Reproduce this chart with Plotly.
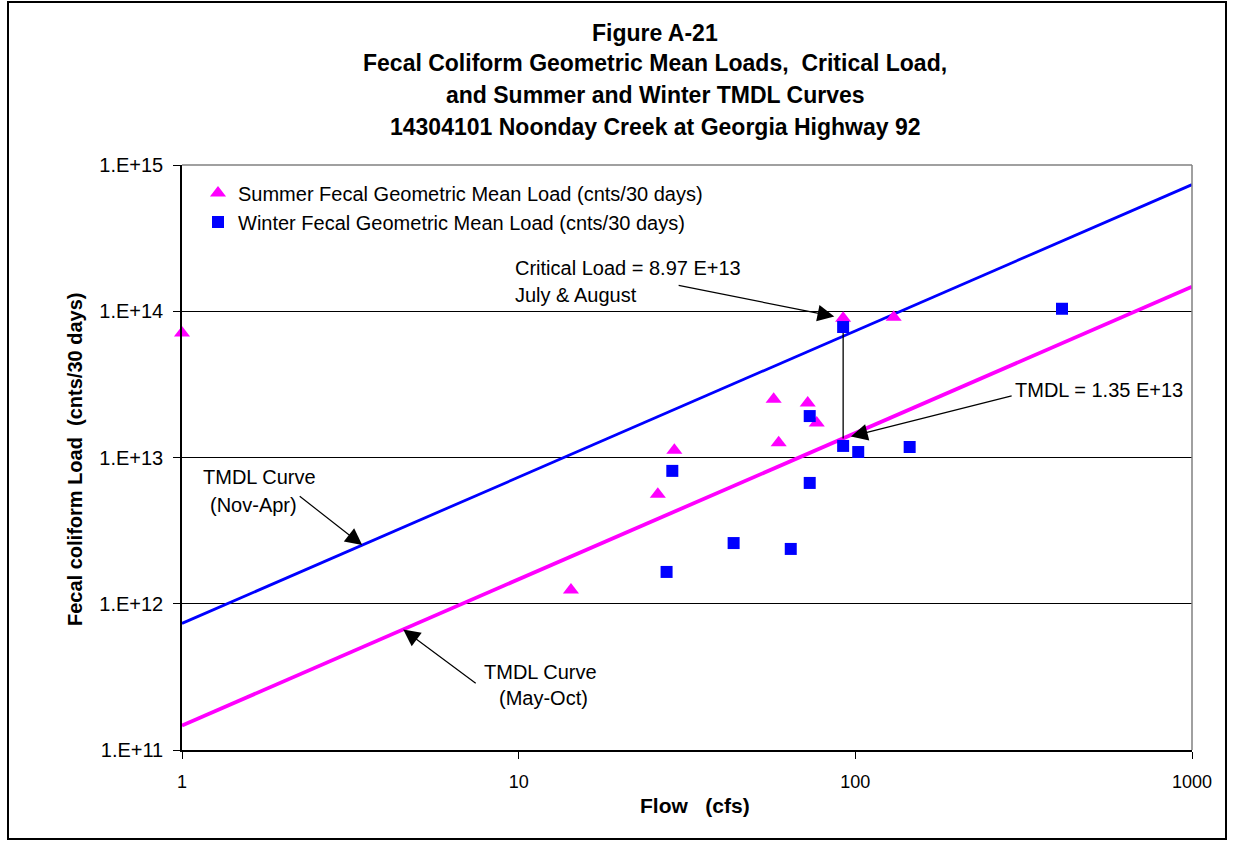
import numpy as np
import plotly.graph_objects as go

# ---- data -------------------------------------------------------------
summer_flow = [1, 92, 130, 57.2, 72.2, 76.8, 59.2, 29.0, 25.9, 14.3]
summer_load = [7.1e13, 8.97e13, 9.1e13, 2.5e13, 2.36e13, 1.72e13, 1.26e13, 1.12e13, 5.6e12, 1.24e12]

winter_flow = [92, 411, 73.2, 92, 102, 145, 28.6, 73.2, 43.5, 64.3, 27.5]
winter_load = [7.8e13, 1.04e14, 1.92e13, 1.2e13, 1.09e13, 1.18e13, 8.1e12, 6.7e12, 2.6e12, 2.37e12, 1.65e12]

# TMDL curves (load proportional to flow)
curve_flow = [1, 1000]
curve_summer = [1.47e11, 1.47e14]   # May-Oct
curve_winter = [7.34e11, 7.34e14]   # Nov-Apr

crit_flow = 92
crit_load = 8.97e13
tmdl_load = 1.35e13

y_tickvals = [1e11, 1e12, 1e13, 1e14, 1e15]
y_ticktext = ["1.E+11", "1.E+12", "1.E+13", "1.E+14", "1.E+15"]
x_tickvals = [1, 10, 100, 1000]
x_ticktext = ["1", "10", "100", "1000"]

# ---- layout geometry (pixels) ------------------------------------------
W, H = 1233, 843
L, R, T, B = 182, 1192, 165, 750
FONT = "Liberation Sans, Arial, sans-serif"
MAGENTA = "#FF00FF"
BLUE = "#0000FF"


def px(x):
    return (x - L) / (R - L)


def py(y):
    return (B - y) / (B - T)


def on_curve(q, loads):
    return 10 ** np.interp(np.log10(q), np.log10(curve_flow), np.log10(loads))


fig = go.Figure()

fig.add_trace(go.Scatter(x=curve_flow, y=curve_winter, mode="lines",
                         line=dict(color=BLUE, width=2.8), showlegend=False,
                         hoverinfo="skip"))
fig.add_trace(go.Scatter(x=curve_flow, y=curve_summer, mode="lines",
                         line=dict(color=MAGENTA, width=3.8), showlegend=False,
                         hoverinfo="skip"))
fig.add_trace(go.Scatter(x=[crit_flow, crit_flow], y=[crit_load, tmdl_load], mode="lines",
                         line=dict(color="black", width=1.3), showlegend=False,
                         hoverinfo="skip"))

fig.add_trace(go.Scatter(x=summer_flow, y=summer_load, mode="markers",
                         name="Summer Fecal Geometric Mean Load (cnts/30 days)",
                         marker=dict(symbol="triangle-up", size=14, color=MAGENTA,
                                     line=dict(width=0)),
                         cliponaxis=False, legend="legend"))
fig.add_trace(go.Scatter(x=winter_flow, y=winter_load, mode="markers",
                         name="Winter Fecal Geometric Mean Load (cnts/30 days)",
                         marker=dict(symbol="square", size=12, color=BLUE,
                                     line=dict(width=0)),
                         cliponaxis=False, legend="legend2"))

ann = []

# title
for text, yy in [("Figure A-21", 33),
                 ("Fecal Coliform Geometric Mean Loads,\u00a0\u00a0Critical Load,", 63),
                 ("and Summer and Winter TMDL Curves", 95),
                 ("14304101 Noonday Creek at Georgia Highway 92", 127)]:
    ann.append(dict(text="<b>%s</b>" % text, xref="paper", yref="paper",
                    x=px(655), y=py(yy), xanchor="center", yanchor="middle",
                    showarrow=False, font=dict(family=FONT, size=23, color="black")))

# axis titles
ann.append(dict(text="<b>Flow\u00a0\u00a0\u00a0(cfs)</b>", xref="paper", yref="paper",
                x=px(695), y=py(805), xanchor="center", yanchor="middle",
                showarrow=False, font=dict(family=FONT, size=21, color="black")))
ann.append(dict(text="<b>Fecal coliform Load\u00a0\u00a0(cnts/30 days)</b>", xref="paper", yref="paper",
                x=px(75), y=py(460), xanchor="center", yanchor="middle", textangle=-90,
                showarrow=False, font=dict(family=FONT, size=20, color="black")))

# callout texts
txt_font = dict(family=FONT, size=20, color="black")
for text, xx, yy, anchor in [("Critical Load = 8.97 E+13", 513, 268, "left"),
                             ("July & August", 513, 295, "left"),
                             ("TMDL = 1.35 E+13", 1013, 390, "left"),
                             ("TMDL Curve", 259, 477, "center"),
                             ("(Nov-Apr)", 253, 505, "center"),
                             ("TMDL Curve", 540, 672, "center"),
                             ("(May-Oct)", 543, 698, "center")]:
    ann.append(dict(text=text, xref="paper", yref="paper", x=px(xx), y=py(yy),
                    xanchor=anchor, yanchor="middle", showarrow=False, font=txt_font))

# arrows
arrow = dict(text="", showarrow=True, arrowhead=2, arrowsize=2.8, arrowwidth=1.2,
             arrowcolor="black", xref="x", yref="y", axref="pixel", ayref="pixel")
q_nov, q_may = 3.43, 4.54
for x, y, ax, ay, so in [(crit_flow, crit_load, -166, -33, 9),
                         (crit_flow, tmdl_load, 170, -43, 8),
                         (q_nov, on_curve(q_nov, curve_winter), -64, -50, 0),
                         (q_may, on_curve(q_may, curve_summer), 74, 55, 0)]:
    a = dict(arrow)
    a.update(x=np.log10(x), y=np.log10(y), ax=ax, ay=ay, standoff=so)
    ann.append(a)

shapes = [
    # plot-area border (top and right)
    dict(type="line", xref="paper", yref="paper", x0=0, x1=1, y0=1, y1=1,
         line=dict(color="#808080", width=1.5), layer="above"),
    dict(type="line", xref="paper", yref="paper", x0=1, x1=1, y0=0, y1=1,
         line=dict(color="#808080", width=1.5), layer="above"),
    # outer frame of the chart
    dict(type="rect", xref="paper", yref="paper", x0=px(8), x1=px(1226), y0=py(839), y1=py(2),
         line=dict(color="black", width=2), layer="below"),
]

legend_common = dict(xref="paper", yref="paper", xanchor="left", yanchor="middle",
                     bgcolor="rgba(0,0,0,0)", font=dict(family=FONT, size=20),
                     itemwidth=30)

fig.update_layout(
    width=W, height=H,
    margin=dict(l=L, r=W - R, t=T, b=H - B, pad=0, autoexpand=False),
    paper_bgcolor="white", plot_bgcolor="white",
    font=dict(family=FONT, size=20, color="black"),
    annotations=ann, shapes=shapes,
    legend=dict(x=px(198), y=py(193), **legend_common),
    legend2=dict(x=px(198), y=py(222), **legend_common),
    xaxis=dict(type="log", range=[0, 3], tickvals=x_tickvals, ticktext=x_ticktext,
               ticks="outside", ticklen=7, tickwidth=1.3, tickcolor="black",
               showline=True, linecolor="black", linewidth=1.5, showgrid=False,
               zeroline=False, tickfont=dict(family=FONT, size=18),
               ticklabelstandoff=8),
    yaxis=dict(type="log", range=[11, 15], tickvals=y_tickvals, ticktext=y_ticktext,
               ticks="outside", ticklen=7, tickwidth=1.3, tickcolor="black",
               showline=True, linecolor="black", linewidth=1.5,
               showgrid=True, gridcolor="black", gridwidth=1.3,
               zeroline=False, tickfont=dict(family=FONT, size=20),
               ticklabelstandoff=6),
)

fig.write_html("out.html")
